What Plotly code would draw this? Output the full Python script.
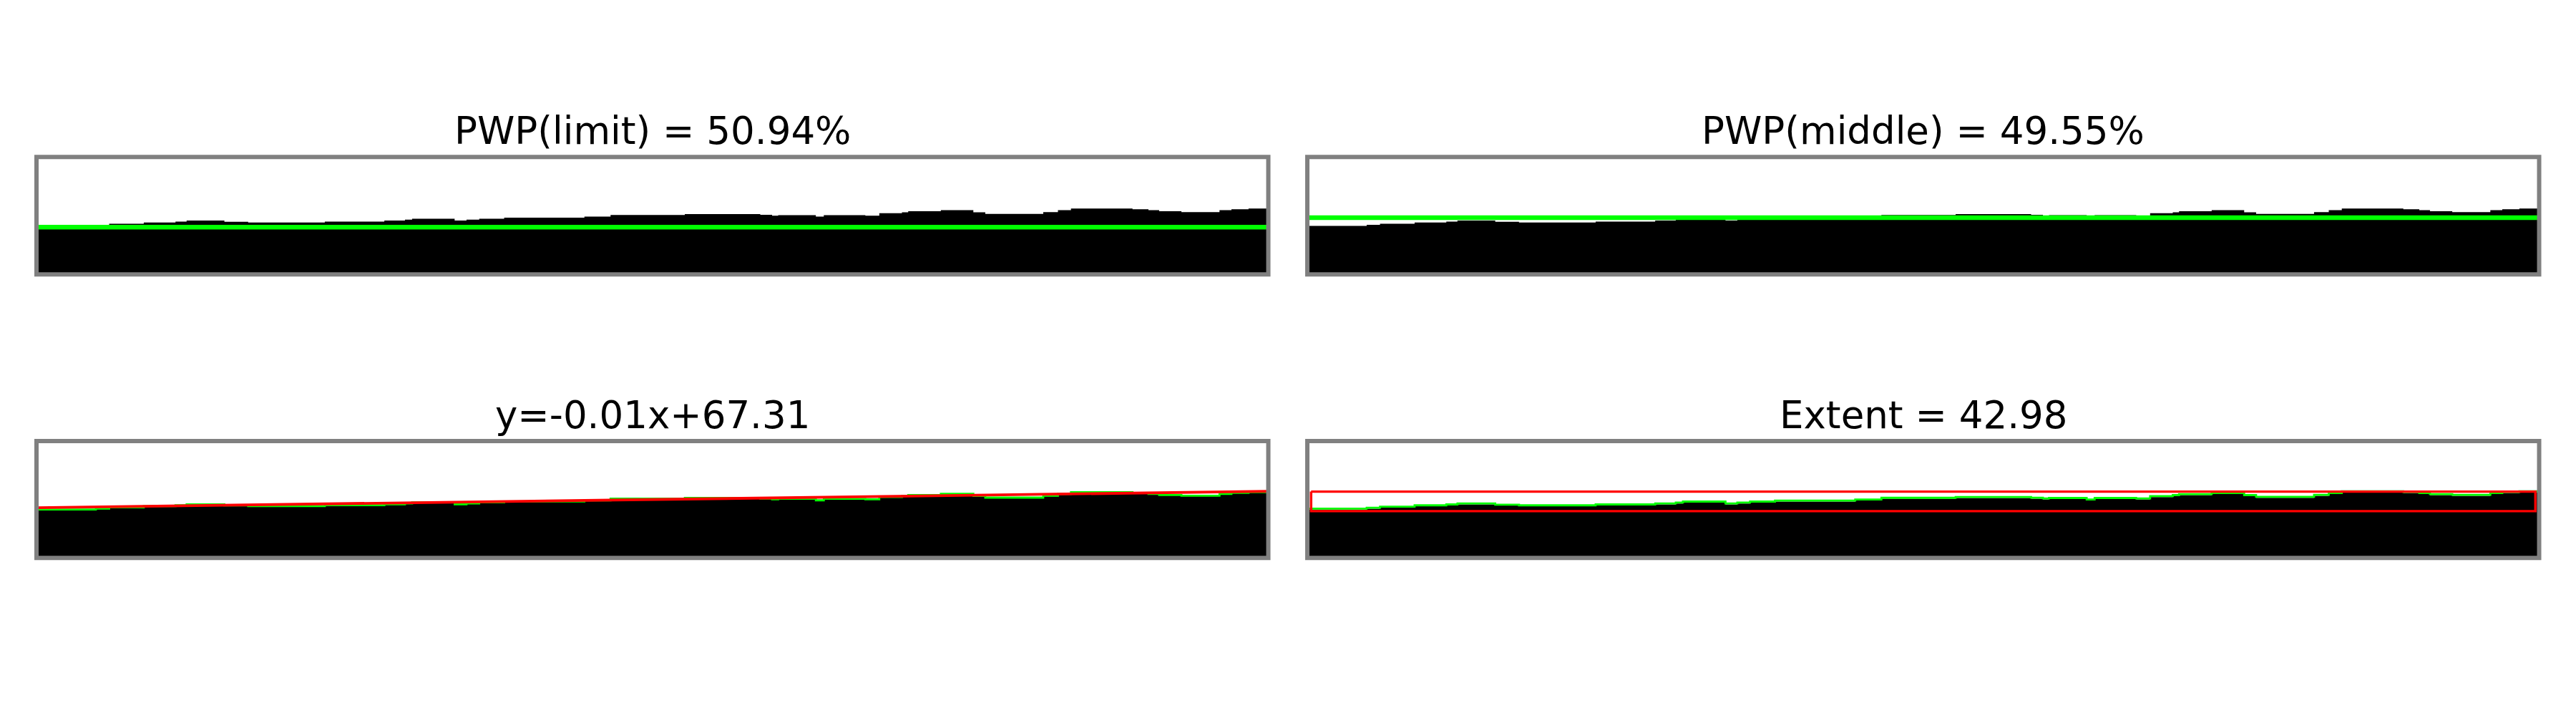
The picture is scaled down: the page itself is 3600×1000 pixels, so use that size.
import plotly.graph_objects as go

# ---------------- data (image pixel units: columns x rows, rows grow downward) ----------------
IMG_W = 1239
IMG_H = 118

PROFILE_COL = [0, 59.7, 73.1, 107.9, 139.8, 151.0, 189.0, 212.9, 290.0, 349.9, 370.6, 377.8,
               420.6, 432.5, 445.3, 470.4, 551.1, 577.4, 652.1, 728.0, 739.9, 746.0, 783.9,
               791.9, 833.7, 847.7, 870.5, 876.8, 909.6, 942.3, 954.3, 1012.6, 1027.4, 1040.5,
               1102.4, 1118.4, 1129.2, 1151.6, 1189.9, 1201.9, 1219.1]
PROFILE_ROW = [69.2, 68.2, 67.1, 65.8, 64.9, 63.9, 65.1, 65.8, 64.9, 63.9, 63.0, 62.0,
               63.9, 63.0, 62.0, 61.0, 59.9, 58.2, 57.4, 58.1, 58.9, 58.4, 59.9,
               58.4, 58.9, 56.5, 55.5, 54.5, 53.4, 55.5, 57.2, 55.3, 53.4, 51.7,
               52.4, 53.4, 54.5, 55.3, 53.4, 52.4, 51.7]

PWP_LIMIT = 50.94
PWP_MIDDLE = 49.55
PWP_LIMIT_ROW = 70.5
PWP_MIDDLE_ROW = 60.9
FIT_SLOPE = -0.0134
FIT_INTERCEPT = 67.31
EXTENT = 42.98
EXTENT_TOP_ROW = 51.0
EXTENT_BOTTOM_ROW = 70.7
EXTENT_MARGIN_COL = 3.8

TITLES = [f"PWP(limit) = {PWP_LIMIT:.2f}%",
          f"PWP(middle) = {PWP_MIDDLE:.2f}%",
          f"y={FIT_SLOPE:.2f}x+{FIT_INTERCEPT:.2f}",
          f"Extent = {EXTENT:.2f}"]

# ---------------- layout geometry (pixels) ----------------
FIG_W, FIG_H = 3600, 1000
PANELS = [(51, 1772.5, 219.3, 383.3), (1827, 3548.5, 219.3, 383.3),
          (51, 1772.5, 616.0, 779.3), (1827, 3548.5, 616.0, 779.3)]
GRAY = "#808080"
GREEN = "#00ff00"
RED = "#ff0000"
FONT = "DejaVu Sans"

fig = go.Figure()

prof_x = PROFILE_COL + [IMG_W]
prof_y = PROFILE_ROW + [PROFILE_ROW[-1]]
poly_x = prof_x + [IMG_W, 0]
poly_y = prof_y + [IMG_H, IMG_H]

for i in range(4):
    xa = "x" if i == 0 else f"x{i+1}"
    ya = "y" if i == 0 else f"y{i+1}"
    # black region below surface
    fig.add_trace(go.Scatter(x=poly_x, y=poly_y, xaxis=xa, yaxis=ya, mode="lines",
                             line=dict(width=0, color="black", shape="hv"),
                             fill="toself", fillcolor="black", hoverinfo="skip",
                             showlegend=False))

# panel 1 : limit line
fig.add_trace(go.Scatter(x=[0, IMG_W], y=[PWP_LIMIT_ROW, PWP_LIMIT_ROW], xaxis="x", yaxis="y",
                         mode="lines", line=dict(color=GREEN, width=6.4), showlegend=False))
# panel 2 : middle line
fig.add_trace(go.Scatter(x=[0, IMG_W], y=[PWP_MIDDLE_ROW, PWP_MIDDLE_ROW], xaxis="x2", yaxis="y2",
                         mode="lines", line=dict(color=GREEN, width=6.4), showlegend=False))
# panel 3 : contour + fit line
fig.add_trace(go.Scatter(x=prof_x, y=[r - 0.1 for r in prof_y], xaxis="x3", yaxis="y3",
                         mode="lines", line=dict(color=GREEN, width=2.8, shape="hv"),
                         showlegend=False))
fig.add_trace(go.Scatter(x=[0, IMG_W], y=[FIT_INTERCEPT, FIT_INTERCEPT + FIT_SLOPE * IMG_W],
                         xaxis="x3", yaxis="y3", mode="lines",
                         line=dict(color=RED, width=3.8), showlegend=False))
# panel 4 : contour + extent box
fig.add_trace(go.Scatter(x=prof_x, y=[r - 0.95 for r in prof_y], xaxis="x4", yaxis="y4",
                         mode="lines", line=dict(color=GREEN, width=2.8, shape="hv"),
                         showlegend=False))
bx0, bx1 = EXTENT_MARGIN_COL, IMG_W - EXTENT_MARGIN_COL
fig.add_trace(go.Scatter(x=[bx0, bx1, bx1, bx0, bx0],
                         y=[EXTENT_TOP_ROW, EXTENT_TOP_ROW, EXTENT_BOTTOM_ROW, EXTENT_BOTTOM_ROW, EXTENT_TOP_ROW],
                         xaxis="x4", yaxis="y4", mode="lines",
                         line=dict(color=RED, width=3.4), showlegend=False))

layout = dict(width=FIG_W, height=FIG_H, margin=dict(l=0, r=0, t=0, b=0),
              paper_bgcolor="white", plot_bgcolor="white", showlegend=False)
shapes = []
annotations = []
for i, (x0, x1, y0, y1) in enumerate(PANELS):
    sfx = "" if i == 0 else str(i + 1)
    layout["xaxis" + sfx] = dict(domain=[x0 / FIG_W, x1 / FIG_W], range=[0, IMG_W],
                                 showgrid=False, zeroline=False, showticklabels=False,
                                 ticks="", showline=False, anchor="y" + sfx, fixedrange=True)
    layout["yaxis" + sfx] = dict(domain=[1 - y1 / FIG_H, 1 - y0 / FIG_H], range=[IMG_H, 0],
                                 showgrid=False, zeroline=False, showticklabels=False,
                                 ticks="", showline=False, anchor="x" + sfx, fixedrange=True)
    shapes.append(dict(type="rect", xref="paper", yref="paper",
                       x0=x0 / FIG_W, x1=x1 / FIG_W, y0=1 - y1 / FIG_H, y1=1 - y0 / FIG_H,
                       line=dict(color=GRAY, width=6), fillcolor="rgba(0,0,0,0)", layer="above"))
    annotations.append(dict(text=TITLES[i], xref="paper", yref="paper",
                            x=(x0 + x1) / 2 / FIG_W, y=1 - (y0 - 4.5) / FIG_H,
                            xanchor="center", yanchor="bottom", showarrow=False,
                            font=dict(family=FONT, size=53, color="black")))
layout["shapes"] = shapes
layout["annotations"] = annotations
fig.update_layout(**layout)

fig.write_html("out.html", config={"displayModeBar": False},
               post_script="document.body.style.margin='0px';document.body.style.padding='0px';")
